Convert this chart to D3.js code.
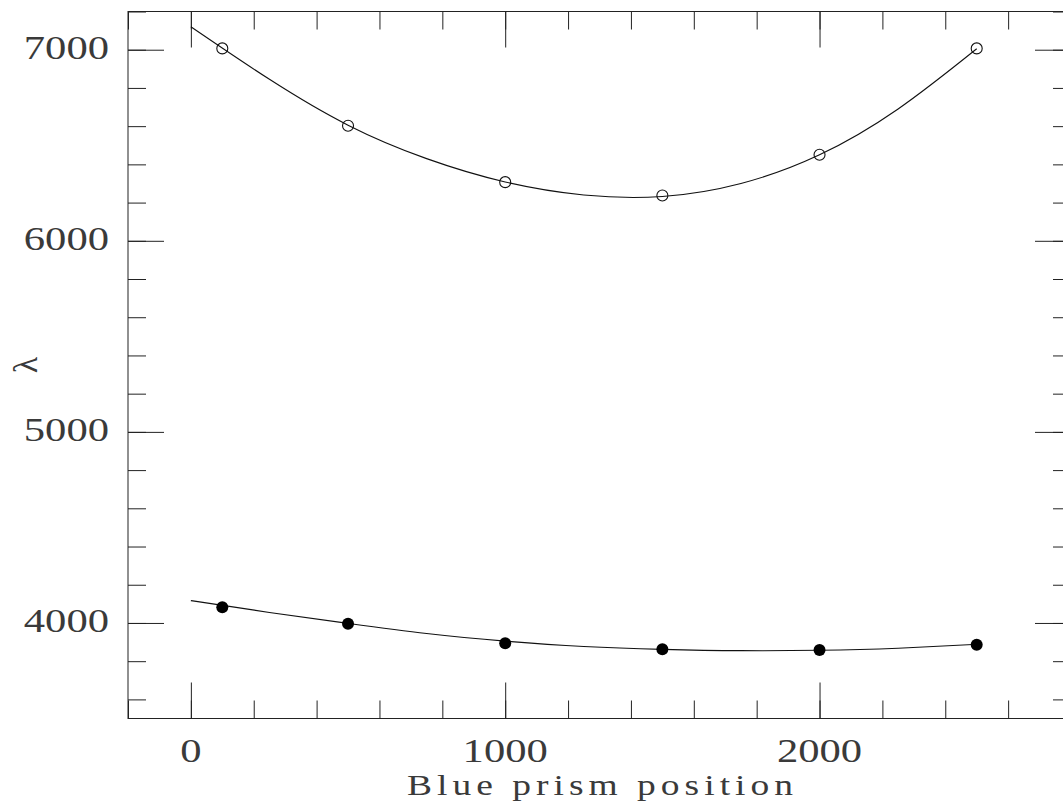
<!DOCTYPE html>
<html>
<head>
<meta charset="utf-8">
<script src="https://cdn.jsdelivr.net/npm/d3@7"></script>
<style>
  body { margin: 0; background: #fff; }
  svg text { font-family: "Liberation Serif", "DejaVu Serif", serif; fill: #3a3a3a; }
</style>
</head>
<body>
<div id="chart"></div>
<script>
// measured positions (blue prism position) and wavelengths
var prismPos = [100, 500, 1000, 1500, 2000, 2500];
var redLambda = [7007, 6602, 6307, 6237, 6450, 7007];
var blueLambda = [4082, 3996, 3894, 3862, 3858, 3886];

// fitted curves
var fitPos = [0, 250, 500, 750, 1000, 1250, 1500, 1750, 2000, 2250, 2500];
var redFit = [7120, 6845, 6605, 6430, 6308, 6240, 6232, 6300, 6450, 6690, 7005];
var blueFit = [4117, 4055, 3998, 3945, 3905, 3877, 3862, 3855, 3857, 3868, 3888];

var xMajor = [0, 1000, 2000],
    yMajor = [4000, 5000, 6000, 7000];

var width = 1063,
    height = 812;

var svg = d3.select('#chart').append('svg').attr('width', width).attr('height', height);

var x = d3.scaleLinear().domain([-200, 2800]).range([128, 1071]);
var y = d3.scaleLinear().domain([3500, 7200]).range([718.5, 11.5]);

var xMinor = d3.range(-200, 2801, 200),
    yMinor = d3.range(3600, 7201, 200);

// frame
svg.append('rect')
  .attr('x', x.range()[0]).attr('y', y.range()[1])
  .attr('width', x.range()[1] - x.range()[0])
  .attr('height', y.range()[0] - y.range()[1])
  .attr('fill', 'none').attr('stroke', '#222').attr('stroke-width', 1);

function ticks(axis, at, values, size) {
  var g = svg.append('g')
    .attr('transform', at)
    .call(axis.tickValues(values).tickSize(-size).tickSizeOuter(0).tickFormat(''));
  g.select('.domain').remove();
  g.selectAll('line').attr('stroke', '#222');
  return g;
}

var bottomY = y.range()[0], topY = y.range()[1];
var leftX = x.range()[0], rightX = x.range()[1];

ticks(d3.axisBottom(x), 'translate(0,' + bottomY + ')', xMinor, 18);
ticks(d3.axisBottom(x), 'translate(0,' + bottomY + ')', xMajor, 36);
ticks(d3.axisTop(x), 'translate(0,' + topY + ')', xMinor, 18);
ticks(d3.axisTop(x), 'translate(0,' + topY + ')', xMajor, 36);
ticks(d3.axisLeft(y), 'translate(' + leftX + ',0)', yMinor, 18);
ticks(d3.axisLeft(y), 'translate(' + leftX + ',0)', yMajor, 36);
ticks(d3.axisRight(y), 'translate(' + rightX + ',0)', yMinor, 18);
ticks(d3.axisRight(y), 'translate(' + rightX + ',0)', yMajor, 36);

// tick labels
var fs = 34, charW = 21.3;
svg.append('g').selectAll('text').data(xMajor).enter().append('text')
  .attr('x', function(d) { return x(d); })
  .attr('y', bottomY + 43.5)
  .attr('text-anchor', 'middle')
  .attr('font-size', fs)
  .attr('textLength', function(d) { return String(d).length * charW; })
  .attr('lengthAdjust', 'spacingAndGlyphs')
  .text(function(d) { return d; });

svg.append('g').selectAll('text').data(yMajor).enter().append('text')
  .attr('x', 109)
  .attr('y', function(d) { return y(d) + 9; })
  .attr('text-anchor', 'end')
  .attr('font-size', fs)
  .attr('textLength', function(d) { return String(d).length * charW; })
  .attr('lengthAdjust', 'spacingAndGlyphs')
  .text(function(d) { return d; });

// axis titles
var stretch = 1.25;
svg.append('text')
  .attr('transform', 'translate(600,795) scale(' + stretch + ',1)')
  .attr('text-anchor', 'middle')
  .attr('font-size', 30)
  .attr('textLength', 386 / stretch)
  .attr('lengthAdjust', 'spacing')
  .text('Blue prism position');

svg.append('text')
  .attr('transform', 'translate(37,' + ((topY + bottomY) / 2) + ') rotate(-90)')
  .attr('text-anchor', 'middle')
  .attr('font-size', 34)
  .text('λ');

// fitted curves
var line = d3.line()
  .x(function(d) { return x(d[0]); })
  .y(function(d) { return y(d[1]); })
  .curve(d3.curveNatural);

svg.append('path')
  .attr('d', line(d3.zip(fitPos, redFit)))
  .attr('fill', 'none').attr('stroke', '#111').attr('stroke-width', 1.1);

svg.append('path')
  .attr('d', line(d3.zip(fitPos, blueFit)))
  .attr('fill', 'none').attr('stroke', '#111').attr('stroke-width', 1.1);

// points
svg.append('g').selectAll('circle').data(d3.zip(prismPos, redLambda)).enter().append('circle')
  .attr('cx', function(d) { return x(d[0]); })
  .attr('cy', function(d) { return y(d[1]); })
  .attr('r', 5.5)
  .attr('fill', 'none')
  .attr('stroke', '#111').attr('stroke-width', 1.1);

svg.append('g').selectAll('circle').data(d3.zip(prismPos, blueLambda)).enter().append('circle')
  .attr('cx', function(d) { return x(d[0]); })
  .attr('cy', function(d) { return y(d[1]); })
  .attr('r', 6)
  .attr('fill', '#000');
</script>
</body>
</html>
